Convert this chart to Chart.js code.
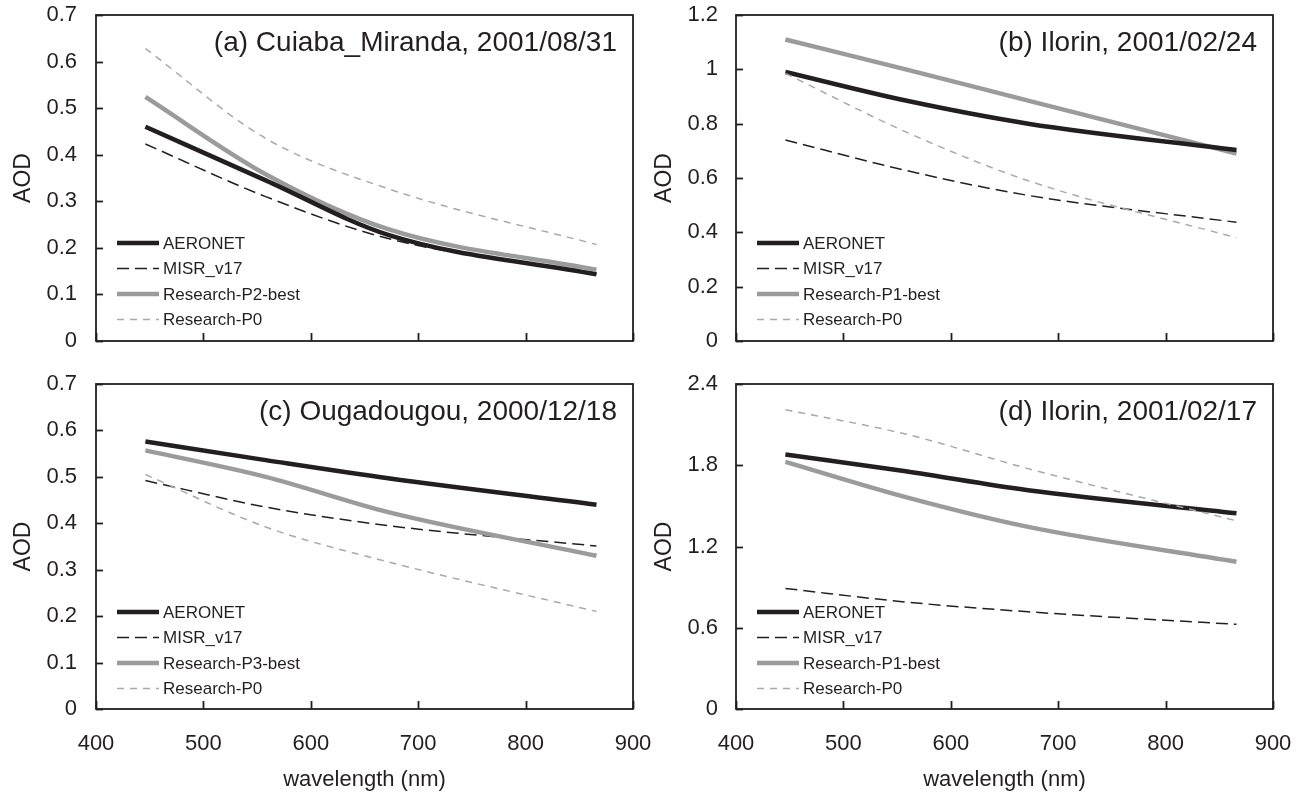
<!DOCTYPE html>
<html>
<head>
<meta charset="utf-8">
<title>AOD spectra</title>
<script src="https://cdn.jsdelivr.net/npm/chart.js@4.4.1/dist/chart.umd.min.js"></script>
<style>
  html, body { margin: 0; padding: 0; background: #fff; }
  body { width: 1302px; height: 792px; position: relative; overflow: hidden; }
  canvas { position: absolute; }
</style>
</head>
<body>
<canvas id="chartA" width="651" height="362" style="left:0;top:0"></canvas>
<canvas id="chartB" width="651" height="362" style="left:651px;top:0"></canvas>
<canvas id="chartC" width="651" height="430" style="left:0;top:362px"></canvas>
<canvas id="chartD" width="651" height="430" style="left:651px;top:362px"></canvas>
<script>
/* MISR band centres, nm */
var wavelengths = [446, 558, 672, 866];

/* (a) Cuiaba_Miranda, 2001/08/31 */
var aeronetA = [0.460, 0.345, 0.228, 0.143];
var misrA    = [0.423, 0.310, 0.220, 0.145];
var bestA    = [0.524, 0.358, 0.240, 0.153];
var p0A      = [0.628, 0.435, 0.327, 0.207];

/* (b) Ilorin, 2001/02/24 */
var aeronetB = [0.990, 0.885, 0.800, 0.703];
var misrB    = [0.740, 0.628, 0.536, 0.437];
var bestB    = [1.110, 1.000, 0.885, 0.690];
var p0B      = [0.985, 0.770, 0.590, 0.380];

/* (c) Ougadougou, 2000/12/18 */
var aeronetC = [0.576, 0.536, 0.497, 0.440];
var misrC    = [0.492, 0.435, 0.395, 0.351];
var bestC    = [0.557, 0.500, 0.424, 0.330];
var p0C      = [0.505, 0.392, 0.317, 0.210];

/* (d) Ilorin, 2001/02/17 */
var aeronetD = [1.880, 1.755, 1.615, 1.445];
var misrD    = [0.890, 0.790, 0.718, 0.625];
var bestD    = [1.825, 1.565, 1.345, 1.088];
var p0D      = [2.210, 2.030, 1.775, 1.390];

var xTicks = [400, 500, 600, 700, 800, 900];

var INK = '#231f20';
var FONT = '"Liberation Sans", Arial, Helvetica, sans-serif';
Chart.defaults.font.family = FONT;
Chart.defaults.color = INK;

function pts(vals) {
  return wavelengths.map(function(w, i) { return { x: w, y: vals[i] }; });
}

function line(ctx, x0, y0, x1, y1) {
  ctx.beginPath(); ctx.moveTo(x0, y0); ctx.lineTo(x1, y1); ctx.stroke();
}

// keep the plot box exactly where layout.padding + axis sizes put it
function noLabelPadding(s) {
  s.paddingTop = 0; s.paddingBottom = 0; s.paddingLeft = 0; s.paddingRight = 0;
}

/* box frame, inward tick marks, panel title and legend */
var panelDecor = {
  id: 'panelDecor',
  afterDatasetsDraw: function(chart, args, opts) {
    var ctx = chart.ctx, a = chart.chartArea;
    var xs = chart.scales.x, ys = chart.scales.y;
    ctx.save();
    ctx.strokeStyle = INK;
    ctx.lineWidth = 1.8;
    ctx.setLineDash([]);
    xs.ticks.forEach(function(t) {
      var px = Math.round(xs.getPixelForValue(t.value)) + 0.5;
      line(ctx, px, a.bottom, px, a.bottom - 8);
    });
    ys.ticks.forEach(function(t) {
      var py = Math.round(ys.getPixelForValue(t.value)) + 0.5;
      line(ctx, a.left, py, a.left + 7, py);
    });
    ctx.strokeRect(a.left, a.top, a.right - a.left, a.bottom - a.top);

    // panel title, top right
    ctx.fillStyle = INK;
    ctx.font = '28px ' + FONT;
    ctx.textAlign = 'right';
    ctx.textBaseline = 'middle';
    ctx.fillText(opts.title, a.right - 16, a.top + 28);

    // legend, lower left
    ctx.font = '17px ' + FONT;
    ctx.textAlign = 'left';
    chart.data.datasets.forEach(function(ds, i) {
      var y = a.top + 228 + i * 25.5;
      ctx.strokeStyle = ds.borderColor;
      ctx.lineWidth = ds.borderWidth;
      ctx.setLineDash(ds.borderDash || []);
      line(ctx, a.left + 21, y, a.left + 63, y);
      ctx.fillStyle = INK;
      ctx.fillText(ds.label, a.left + 67, y + 1);
    });
    ctx.restore();
  }
};

function makePanel(id, cfg) {
  var bottomRow = cfg.bottomRow;
  return new Chart(document.getElementById(id), {
    type: 'line',
    data: {
      datasets: [
        { label: 'AERONET', data: pts(cfg.aeronet), borderColor: INK, borderWidth: 4.5, order: 1 },
        { label: 'MISR_v17', data: pts(cfg.misr), borderColor: INK, borderWidth: 1.5, borderDash: [12, 6], order: 3 },
        { label: cfg.bestLabel, data: pts(cfg.best), borderColor: '#9b9b9b', borderWidth: 4.5, order: 2 },
        { label: 'Research-P0', data: pts(cfg.p0), borderColor: '#a9a9a9', borderWidth: 1.5, borderDash: [7, 6], order: 0 }
      ]
    },
    options: {
      responsive: false,
      animation: false,
      events: [],
      layout: { padding: { left: 0, top: bottomRow ? 22 : 15, right: cfg.rightPad, bottom: 0 } },
      elements: {
        point: { radius: 0 },
        line: { cubicInterpolationMode: 'monotone', fill: false, borderCapStyle: 'butt' }
      },
      plugins: {
        legend: { display: false },
        tooltip: { enabled: false },
        panelDecor: { title: cfg.title }
      },
      scales: {
        x: {
          type: 'linear', min: 400, max: 900,
          afterBuildTicks: function(s) { s.ticks = xTicks.map(function(v) { return { value: v }; }); },
          afterFit: function(s) { s.height = bottomRow ? 83 : 21; noLabelPadding(s); },
          grid: { display: false, drawTicks: false },
          border: { display: false },
          ticks: { display: bottomRow, autoSkip: false, maxRotation: 0, padding: 22, color: INK, font: { size: 22 } },
          title: {
            display: bottomRow, text: 'wavelength (nm)', color: INK,
            font: { size: 22, lineHeight: 1 }, padding: { top: 0, bottom: 1 }
          }
        },
        y: {
          min: 0, max: cfg.yMax,
          afterFit: function(s) { s.width = cfg.axisW; noLabelPadding(s); },
          grid: { display: false, drawTicks: false },
          border: { display: false },
          ticks: {
            stepSize: cfg.yStep, padding: cfg.labelGap, color: INK, font: { size: 22 },
            callback: function(v) { return String(+v.toFixed(2)); }
          },
          title: {
            display: true, text: 'AOD', color: INK,
            font: { size: 23, lineHeight: 1.2 }, padding: { top: cfg.titlePad, bottom: 0 }
          }
        }
      }
    },
    plugins: [panelDecor]
  });
}

makePanel('chartA', {
  title: '(a) Cuiaba_Miranda, 2001/08/31', bestLabel: 'Research-P2-best',
  aeronet: aeronetA, misr: misrA, best: bestA, p0: p0A,
  yMax: 0.7, yStep: 0.1, axisW: 96, labelGap: 19, titlePad: 10, rightPad: 18, bottomRow: false
});
makePanel('chartB', {
  title: '(b) Ilorin, 2001/02/24', bestLabel: 'Research-P1-best',
  aeronet: aeronetB, misr: misrB, best: bestB, p0: p0B,
  yMax: 1.2, yStep: 0.2, axisW: 85, labelGap: 18, titlePad: 0, rightPad: 29, bottomRow: false
});
makePanel('chartC', {
  title: '(c) Ougadougou, 2000/12/18', bestLabel: 'Research-P3-best',
  aeronet: aeronetC, misr: misrC, best: bestC, p0: p0C,
  yMax: 0.7, yStep: 0.1, axisW: 96, labelGap: 19, titlePad: 10, rightPad: 18, bottomRow: true
});
makePanel('chartD', {
  title: '(d) Ilorin, 2001/02/17', bestLabel: 'Research-P1-best',
  aeronet: aeronetD, misr: misrD, best: bestD, p0: p0D,
  yMax: 2.4, yStep: 0.6, axisW: 85, labelGap: 18, titlePad: 0, rightPad: 29, bottomRow: true
});
</script>
</body>
</html>
